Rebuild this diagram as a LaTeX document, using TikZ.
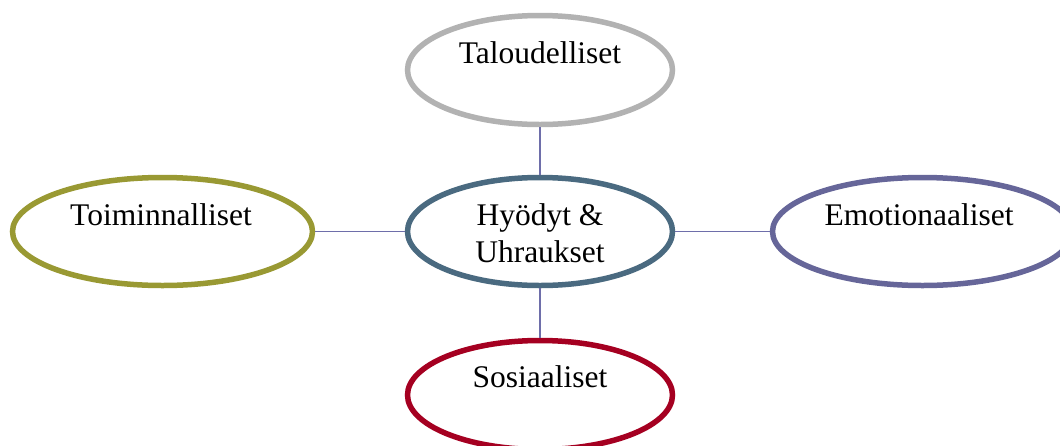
\documentclass[tikz,border=0pt]{standalone}
\usepackage{fontspec}
\setmainfont{Liberation Serif}
\usetikzlibrary{shapes.geometric}
\definecolor{cgray}{RGB}{178,178,178}
\definecolor{colive}{RGB}{153,153,51}
\definecolor{cpurple}{RGB}{102,102,153}
\definecolor{cred}{RGB}{165,0,33}
\definecolor{cslate}{RGB}{74,106,128}
\definecolor{clink}{RGB}{110,110,170}
\tikzset{
  bubble/.style={ellipse, draw, line width=5.5pt, fill=white, inner sep=0pt,
    minimum width=265pt, minimum height=109pt},
  wide/.style={minimum width=300pt, minimum height=108pt},
  caption/.style={anchor=base, align=center, inner sep=0pt,
    font=\fontsize{31.5}{37}\selectfont},
  link/.style={draw=clink, line width=1.5pt}
}
\begin{document}
\begin{tikzpicture}[x=1pt,y=-1pt]
\useasboundingbox (0,0) rectangle (1060,445);
% bubbles
\node[bubble, draw=cgray] (tal) at (540,70) {};
\node[bubble, draw=cslate, minimum height=108pt] (hub) at (540,231.5) {};
\node[bubble, wide, draw=colive] (toi) at (162.5,231.5) {};
\node[bubble, wide, draw=cpurple] (emo) at (922.5,231.5) {};
\node[bubble, draw=cred] (sos) at (540,395) {};
% connectors
\draw[link] (tal.south) -- (hub.north);
\draw[link] (hub.south) -- (sos.north);
\draw[link] (toi.east) -- (hub.west);
\draw[link] (hub.east) -- (emo.west);
% captions (base anchor of a two-line caption sits on its last line)
\node[caption] (talT) at (540,63) {Taloudelliset};
\node[caption] (hubT) at (540,262) {Hyödyt \&\\Uhraukset};
\node[caption] (toiT) at (161,225) {Toiminnalliset};
\node[caption] (emoT) at (919,225) {Emotionaaliset};
\node[caption] (sosT) at (540,387) {Sosiaaliset};
\end{tikzpicture}
\end{document}
